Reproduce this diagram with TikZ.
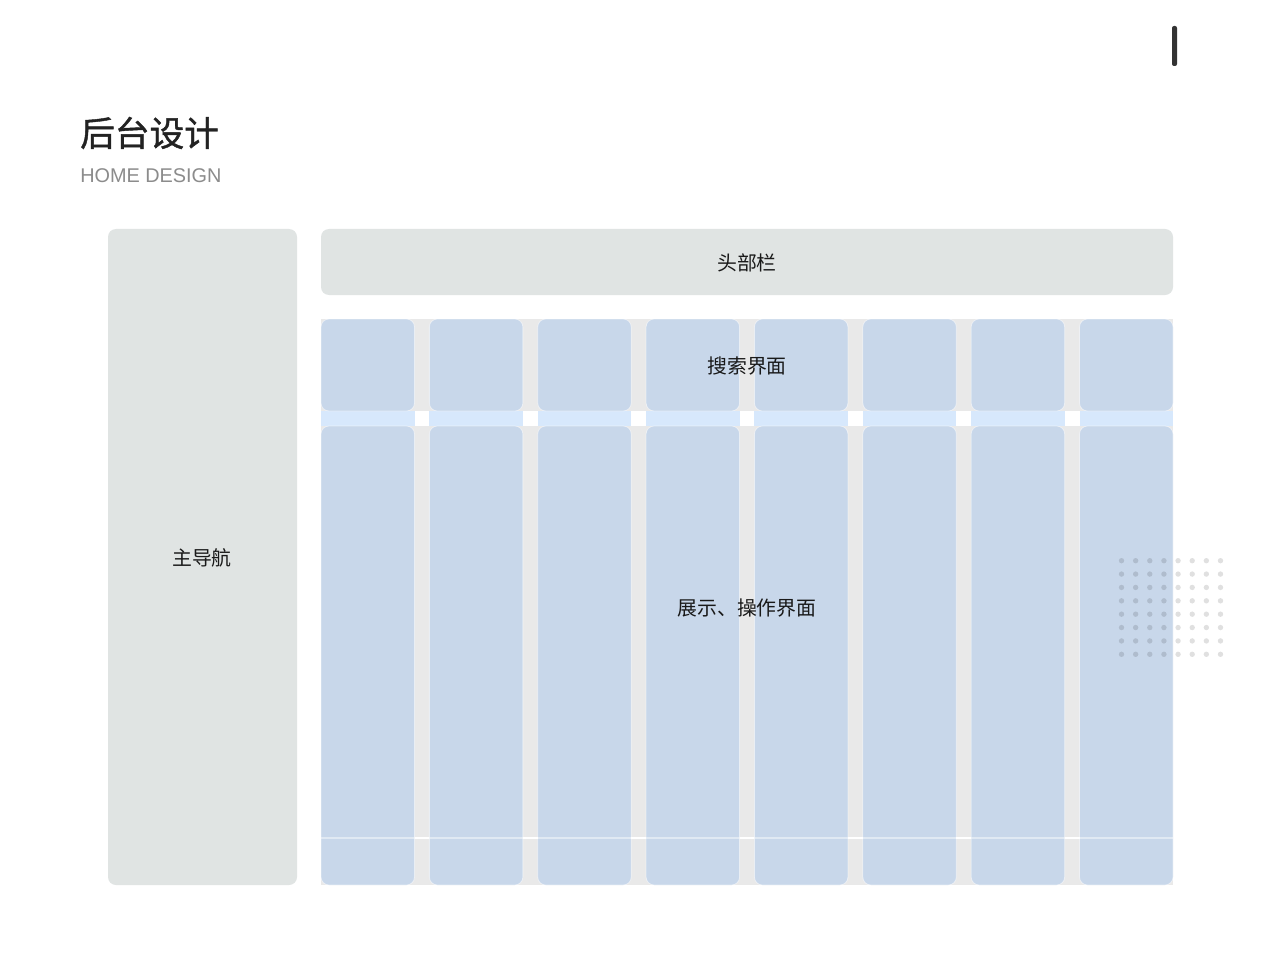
\documentclass[tikz,border=0pt]{standalone}
\usepackage{fontspec}
\setmainfont{Liberation Sans}
\newfontfamily\cjk{Noto Sans CJK SC}
\newfontfamily\cjktitle{Noto Sans CJK SC}[FakeBold=1.2]
\usetikzlibrary{positioning}

\definecolor{navgray}{HTML}{E0E4E3}
\definecolor{gapgray}{HTML}{E9E9E9}
\definecolor{colblue}{HTML}{C8D7EA}
\definecolor{bandblue}{HTML}{D7E8FC}
\definecolor{titlegray}{HTML}{222222}
\definecolor{subgray}{HTML}{8C8C8C}
\definecolor{bargray}{HTML}{333333}

\newcommand{\px}{0.75pt}

\tikzset{
  panel/.style={fill=navgray, rounded corners=6pt, inner sep=0pt},
  column/.style={fill=colblue, draw=white, draw opacity=0.5, line width=0.6pt, rounded corners=6pt},
  boxlabel/.style={font=\cjk\fontsize{14.9}{16}\selectfont, text=black!90, inner sep=0pt},
}

\begin{document}
\begin{tikzpicture}[x=0.75pt, y=-0.75pt]
  \useasboundingbox[fill=white] (0,0) rectangle (1280,959);

  % title
  \node (title) [anchor=west, inner sep=0pt, font=\cjktitle\fontsize{26}{30}\selectfont, text=titlegray] at (80,133) {后台设计};
  \node (subtitle) [anchor=west, inner sep=0pt, font=\fontsize{14.9}{17}\selectfont, text=subgray] at (80,176) {HOME DESIGN};
  \fill[bargray, rounded corners=1.5pt] (1172,26) rectangle (1177,66);

  % navigation and header
  \node (nav) [panel, minimum width=189*\px, minimum height=656*\px] at (202.5,557) {};
  \node (navtext) [boxlabel] at (202,558) {主导航};
  \node (head) [panel, minimum width=852*\px, minimum height=66*\px] at (747,262) {};
  \node (headtext) [boxlabel] at (747,263) {头部栏};

  % grid of columns
  \fill[gapgray] (321,319) rectangle (1173,885);
  \fill[white] (321,411) rectangle (1173,426);
  \foreach \i in {0,...,7} {
    \pgfmathsetmacro{\xl}{321+\i*108.36}
    \pgfmathsetmacro{\xr}{\xl+93.5}
    \fill[bandblue] (\xl,411) rectangle (\xr,426);
    \draw[column] (\xl,319) rectangle (\xr,411);
    \draw[column] (\xl,426) rectangle (\xr,885);
  }
  \draw[white, line width=1.2pt, opacity=0.45] (321,838) -- (1173,838);
  \foreach \i in {0,...,6} {
    \pgfmathsetmacro{\xg}{321+93.5+\i*108.36}
    \draw[white, line width=1.2pt] (\xg,838) -- (\xg+14.86,838);
  }

  \node (search) [boxlabel] at (747,366) {搜索界面};
  \node (display) [boxlabel] at (747,608) {展示、操作界面};

  % dot pattern
  \foreach \i in {0,...,7}
    \foreach \j in {0,...,7}
      \fill[black, opacity=0.12] (1121.5+\i*14.14,560.7+\j*13.37) circle (2.7);
\end{tikzpicture}
\end{document}
